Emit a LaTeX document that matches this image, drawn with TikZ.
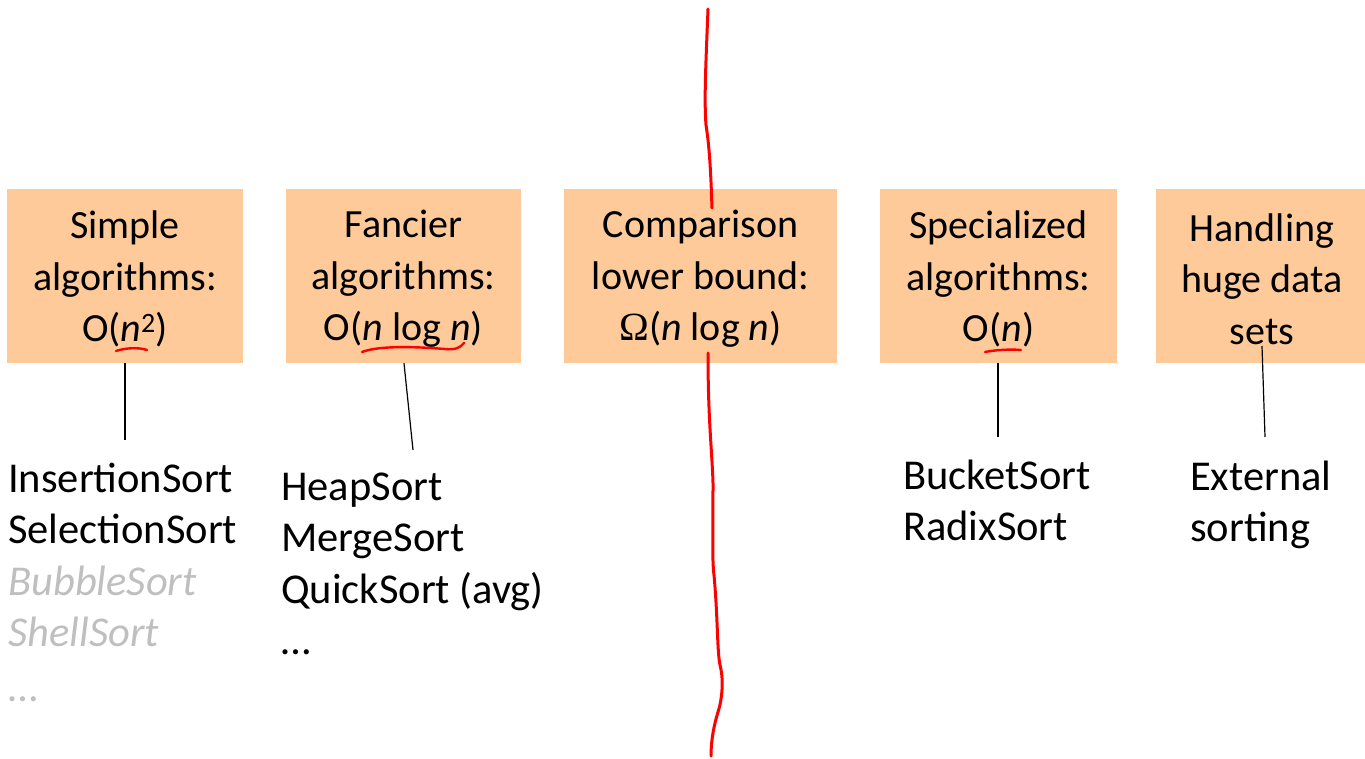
\documentclass[tikz,border=0pt]{standalone}
\usepackage{fontspec}
\setmainfont{Carlito}
\newfontfamily\greekserif{Liberation Serif}
\definecolor{peach}{HTML}{FFCA99}
\definecolor{lightgray}{HTML}{BFBFBF}
\definecolor{penred}{HTML}{FF0000}
\begin{document}
\begin{tikzpicture}[x=1pt,y=-1pt,
  box/.style={fill=peach,draw=none,minimum height=174pt,inner sep=0pt},
  boxtext/.style={inner sep=0pt,align=center,font=\fontsize{40}{51.5}\selectfont},
  listtext/.style={anchor=base west,inner sep=0pt,
    font=\fontsize{42.5}{51.5}\selectfont},
  conn/.style={draw=black,line width=1.2pt},
  pen/.style={draw=penred,line width=3pt,line cap=round,line join=round}]
\useasboundingbox (0,0) rectangle (1365,759);
\node[box,minimum width=236pt] (b1) at (125,276) {};
\node[box,minimum width=235pt] (b2) at (403.5,276) {};
\node[box,minimum width=273pt] (b3) at (700.5,276) {};
\node[box,minimum width=237pt] (b4) at (998.5,276) {};
\node[box,minimum width=212pt] (b5) at (1262,276) {};
\node[boxtext] (t1) at ([yshift=-3pt]b1.center) {Simple\\algorithms:\\O(\emph{n}\textsuperscript{2})};
\node[boxtext] (t2) at ([yshift=-3pt]b2.center) {Fancier\\algorithms:\\O(\emph{n} log \emph{n})};
\node[boxtext] (t3) at ([yshift=-3pt]b3.center) {Comparison\\lower bound:\\{\greekserif Ω}(\emph{n} log \emph{n})};
\node[boxtext] (t4) at ([yshift=-3pt]b4.center) {Specialized\\algorithms:\\O(\emph{n})};
\node[boxtext] (t5) at ([yshift=-3pt]b5.center) {Handling\\huge data\\sets};

\node[listtext] (l1) at (8,492) {\begin{tabular}[t]{@{}l@{}}InsertionSort\\SelectionSort\\\textcolor{lightgray}{\emph{BubbleSort}}\\\textcolor{lightgray}{\emph{ShellSort}}\\[3pt]\textcolor{lightgray}{…}\end{tabular}};
\node[listtext] (l2) at (281,500) {\begin{tabular}[t]{@{}l@{}}HeapSort\\MergeSort\\QuickSort (avg)\\…\end{tabular}};
\node[listtext] (l4) at (903,489) {\begin{tabular}[t]{@{}l@{}}BucketSort\\RadixSort\end{tabular}};
\node[listtext] (l5) at (1190,490) {\begin{tabular}[t]{@{}l@{}}External\\sorting\end{tabular}};

\coordinate (e1) at (125,440);
\coordinate (e2) at (413,450);
\coordinate (e4) at (998,437);
\coordinate (s5) at (1262,346);
\coordinate (e5) at (1265,437);
\draw[conn] (b1.south) -- (e1);
\draw[conn] (b2.south -| 404,0) -- (e2);
\draw[conn] (b4.south -| 998,0) -- (e4);
\draw[conn] (s5) -- (e5);

% red pen marks
\draw[pen] (708,9) .. controls (706,60) and (704,100) .. (706,125) .. controls (710,150) and (711,180) .. (712,208);
\draw[pen] (708,353) .. controls (708,420) and (712,450) .. (713,483) .. controls (713,530) and (712,560) .. (714,575) .. controls (718,620) and (717,650) .. (720,665) .. controls (724,680) and (722,700) .. (718,712) .. controls (714,725) and (711,740) .. (711,756);
\draw[pen,line width=2.4pt] (116,351) .. controls (125,348) and (138,347) .. (147,350);
\draw[pen,line width=2.4pt] (362,352) .. controls (380,345) and (420,347) .. (445,349) .. controls (455,350) and (460,348) .. (464,343);
\draw[pen,line width=2.4pt] (985,352) .. controls (995,350) and (1010,349) .. (1021,350);
\end{tikzpicture}
\end{document}
